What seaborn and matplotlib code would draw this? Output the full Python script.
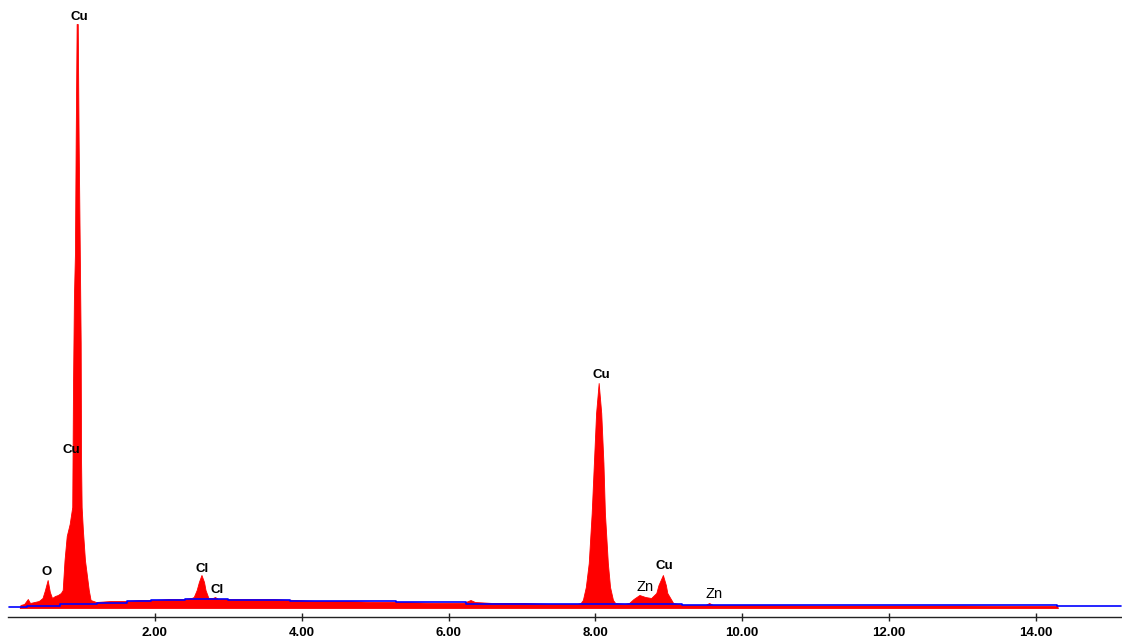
import matplotlib
matplotlib.use("Agg")
import matplotlib.pyplot as plt
import seaborn as sns

# EDS spectrum, counts (arbitrary units)
spec_energy = [0.16, 0.17, 0.22, 0.27, 0.30, 0.36, 0.42, 0.47, 0.50, 0.54,
               0.57, 0.60, 0.64, 0.68, 0.72, 0.745, 0.77, 0.80, 0.84, 0.875,
               0.885, 0.898, 0.912, 0.922, 0.935, 0.950, 0.962, 0.978, 0.990, 0.995,
               1.003, 1.020, 1.048, 1.10, 1.125, 1.20, 1.40, 1.60, 1.80, 2.00,
               2.20, 2.40, 2.50, 2.53, 2.57, 2.60, 2.635, 2.67, 2.69, 2.73,
               2.79, 2.82, 2.86, 3.00, 3.30, 3.60, 3.90, 4.20, 4.60, 5.00,
               5.40, 5.80, 6.20, 6.30, 6.36, 6.60, 7.00, 7.40, 7.75, 7.80,
               7.83, 7.87, 7.91, 7.95, 7.98, 8.01, 8.045, 8.08, 8.11, 8.13,
               8.17, 8.20, 8.24, 8.27, 8.40, 8.46, 8.52, 8.60, 8.68, 8.76,
               8.83, 8.86, 8.92, 8.96, 8.98, 9.06, 9.20, 9.50, 9.55, 9.60,
               10.0, 11.0, 12.0, 13.0, 14.0, 14.29, 14.30]
spec_counts = [0, 3, 4, 9, 5, 6, 7, 10, 17, 28,
               16, 10, 12, 13, 15, 18, 48, 72, 84, 101,
               218, 311, 355, 468, 584, 584, 468, 355, 265, 148,
               101, 78, 48, 18, 8, 6, 7, 7, 8, 8,
               9, 9, 10, 11, 18, 26, 33, 26, 18, 10,
               10, 11, 9, 9, 9, 9, 8, 7, 7, 6,
               6, 5, 5, 8, 6, 5, 5, 4, 4, 5,
               8, 21, 45, 95, 145, 195, 225, 195, 145, 95,
               45, 21, 8, 5, 4, 5, 9, 13, 11, 10,
               15, 23, 33, 23, 15, 5, 3, 3, 5, 3,
               3, 2.5, 2.5, 2.5, 2, 2, 0]

# background fit (blue)
bg_energy = [0.01, 0.26, 0.71, 1.21, 1.62, 1.95, 2.41, 2.99, 3.84, 4.04,
             5.29, 6.24, 9.18, 14.29, 15.16]
bg_counts = [1, 2.3, 3.7, 5.3, 6.7, 7.7, 8.7, 7.7, 7.3, 6.7,
             5.7, 4, 3, 2, 2]

# peak labels: text, energy, baseline height, bold
lbl_text = ["Cu", "Cu", "O", "Cl", "Cl", "Cu", "Zn", "Cu", "Zn"]
lbl_energy = [0.97, 0.866, 0.526, 2.644, 2.855, 8.077, 8.678, 8.94, 9.61]
lbl_height = [588, 155, 33, 36, 15, 230, 17, 39, 10]
lbl_bold = [True, True, True, True, True, True, False, True, False]

xticks = [2, 4, 6, 8, 10, 12, 14]

sns.set_theme(style="white")
plt.rcParams["font.family"] = ["Liberation Sans", "DejaVu Sans"]

fig = plt.figure(figsize=(11.22, 6.42), dpi=100)
ax = fig.add_axes([8 / 1122, 25 / 642, 1114 / 1122, 617 / 642])

ax.fill_between(spec_energy, spec_counts, 0, color="#ff0000", lw=0.6,
                edgecolor="#ff0000")
sns.lineplot(x=bg_energy, y=bg_counts, color="#0000ff", lw=1.2,
             drawstyle="steps-post", ax=ax)

for t, e, h, b in zip(lbl_text, lbl_energy, lbl_height, lbl_bold):
    ax.text(e, h, t, ha="center", va="baseline",
            fontsize=9.5 if b else 10.5,
            fontweight="bold" if b else "normal", color="black")

ax.set_xlim(0, 1114 / 73.42)
ax.set_ylim(-9, 608)
ax.set_xticks(xticks)
ax.set_xticklabels(["%.2f" % v for v in xticks], fontsize=9.5,
                   fontweight="bold", color="black")
ax.set_yticks([])
ax.tick_params(axis="x", direction="inout", length=6, width=1, color="#222222",
               pad=4, bottom=True)
for s in ["left", "top", "right"]:
    ax.spines[s].set_visible(False)
ax.spines["bottom"].set_color("#222222")
ax.spines["bottom"].set_linewidth(1)
ax.set_facecolor("white")

fig.savefig("out.png", dpi=100)
